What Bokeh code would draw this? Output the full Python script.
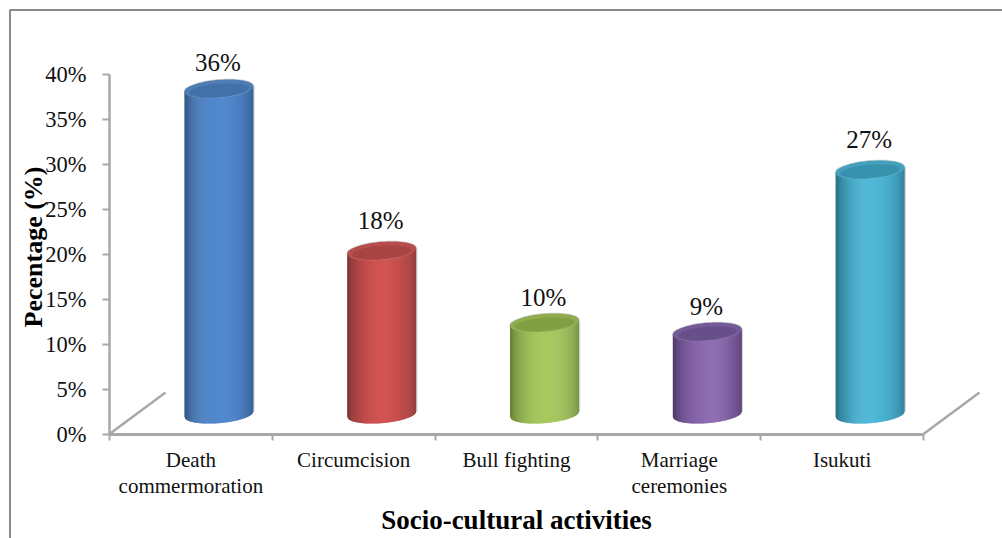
import math

from bokeh.core.properties import value
from bokeh.embed import file_html
from bokeh.models import BoxAnnotation, FixedTicker, Label, Range1d
from bokeh.plotting import figure
from bokeh.resources import INLINE

# Survey results
categories = ["Death\ncommermoration", "Circumcision", "Bull fighting", "Marriage\nceremonies", "Isukuti"]
percentages = [36, 18, 10, 9, 27]
value_labels = ["36%", "18%", "10%", "9%", "27%"]
y_ticks = [0, 5, 10, 15, 20, 25, 30, 35, 40]
y_tick_labels = ["0%", "5%", "10%", "15%", "20%", "25%", "30%", "35%", "40%"]

# Height of each value label above its cylinder's top, in percentage points
label_lift = [3.05, 3.5, 2.95, 2.95, 3.5]

# Cylinder colours: (centre of the face, edge of the face, rim of the cap, inside of the cap)
palette = [
    ("#5289cf", "#305884", "#4f7cb5", "#4270a8"),
    ("#d05453", "#7a2e2c", "#b54e4c", "#a84442"),
    ("#a6c95e", "#6a843c", "#8fac4e", "#81a044"),
    ("#8b69b0", "#523c6c", "#745a98", "#67508a"),
    ("#4db6d6", "#2c7289", "#43a1bd", "#3992ad"),
]

FONT = "Liberation Serif"
AXIS_GREY = "#a8a8a8"
HALO_GREY = "#d4d4d4"

# Pixel scale of the drawing area: categories are 162.8 px apart, 1% is 9 px
W, H = 1002, 538
X0_PX, Y0_PX, PX_PER_CAT, PX_PER_PCT = 109.0, 433.5, 162.8, 9.0

# Oblique-view parameters of the floor and the cylinders, in data units
FLOOR_DX, FLOOR_DY = 0.344, 4.6
BAR_SHIFT = 0.172
BAR_HALF = 0.212
BASE_LIFT = 2.2
TOP_RAISE = 0.15
ELLIPSE_B = 1.0
ELLIPSE_TILT = 0.3
STRIPS = 70

p = figure(
    width=W, height=H, output_backend="svg", toolbar_location=None,
    x_range=Range1d(-X0_PX / PX_PER_CAT, (W - X0_PX) / PX_PER_CAT),
    y_range=Range1d(-(H - Y0_PX) / PX_PER_PCT, Y0_PX / PX_PER_PCT),
    min_border=0, outline_line_color=None, background_fill_color="white",
)
p.grid.visible = False


def mix(a, b, t):
    ca = [int(a[i:i + 2], 16) for i in (1, 3, 5)]
    cb = [int(b[i:i + 2], 16) for i in (1, 3, 5)]
    return "#%02x%02x%02x" % tuple(round(x + (y - x) * t) for x, y in zip(ca, cb))


def front_edge(level, u):
    """Lower half of the sheared ellipse at height `level`, u in [-1, 1]."""
    return level - ELLIPSE_B * math.sqrt(max(0.0, 1 - u * u)) + ELLIPSE_TILT * u


def cap_outline(cx, level, scale_x=1.0, scale_y=1.0, drop=0.0):
    xs, ys = [], []
    for k in range(72):
        a = 2 * math.pi * k / 72
        c, s = math.cos(a) * scale_x, math.sin(a) * scale_y
        xs.append(cx + BAR_HALF * c)
        ys.append(level - drop + ELLIPSE_B * s + ELLIPSE_TILT * c)
    return xs, ys


# Floor edges running back from both ends of the category axis
p.line([0, FLOOR_DX], [0, FLOOR_DY], line_color=AXIS_GREY, line_width=2.5)
p.line([5, 5 + FLOOR_DX], [0, FLOOR_DY], line_color=AXIS_GREY, line_width=2.5)

# Cylinders: the curved face is a run of narrow shaded strips, topped by a cap
for i, (pct, colours) in enumerate(zip(percentages, palette)):
    centre, edge, rim, inner = colours
    cx = i + 0.5 + BAR_SHIFT
    top = BASE_LIFT + pct + TOP_RAISE

    # Faint grey halo along the cap and the right-hand side
    halo_x, halo_y = cap_outline(cx, top)
    p.patch(halo_x, halo_y, fill_color=HALO_GREY, line_color=HALO_GREY, line_width=1.5)
    p.line([cx + BAR_HALF + 0.003] * 2, [BASE_LIFT + ELLIPSE_TILT, top + ELLIPSE_TILT],
           line_color=HALO_GREY, line_width=1.5)

    xs, ys, fills = [], [], []
    for s in range(STRIPS):
        u0 = -1 + 2 * s / STRIPS
        u1 = min(1.0, u0 + 2 * 1.6 / STRIPS)
        um = u0 + 1 / STRIPS
        shade = (1 - min(1.0, abs(um - 0.05)) ** 2) ** 0.7
        xs.append([cx + BAR_HALF * u0, cx + BAR_HALF * u1, cx + BAR_HALF * u1, cx + BAR_HALF * u0])
        ys.append([front_edge(BASE_LIFT, u0), front_edge(BASE_LIFT, u1), front_edge(top, u1), front_edge(top, u0)])
        fills.append(mix(edge, centre, shade))
    p.patches(xs, ys, fill_color=fills, line_color=None)

    cap_x, cap_y = cap_outline(cx, top)
    p.patch(cap_x, cap_y, fill_color=rim, line_color=None)
    in_x, in_y = cap_outline(cx, top, 0.86, 0.72, 0.16)
    p.patch(in_x, in_y, fill_color=inner, line_color=None)

# Value labels above each cylinder
p.text(
    [i + 0.5 + BAR_SHIFT - 0.006 for i in range(5)],
    [BASE_LIFT + v + lift for v, lift in zip(percentages, label_lift)],
    text=value_labels, text_font=value(FONT), text_font_size="25px",
    text_color="#111111", text_align="center", text_baseline="middle",
)

# Axes sit inside the frame so that the outer border can be drawn around them
yax = p.yaxis[0]
yax.fixed_location = 0
yax.bounds = (0, 40)
yax.ticker = FixedTicker(ticks=y_ticks)
yax.major_label_overrides = dict(zip(y_ticks, y_tick_labels))
yax.major_label_text_font = FONT
yax.major_label_text_font_size = "22.5px"
yax.major_label_text_color = "#111111"
yax.major_label_standoff = 16
yax.major_tick_in = 0
yax.major_tick_out = 7
yax.minor_tick_line_color = None
yax.axis_line_color = AXIS_GREY
yax.axis_line_width = 2.5
yax.major_tick_line_color = AXIS_GREY
yax.major_tick_line_width = 2

xax = p.xaxis[0]
xax.fixed_location = 0
xax.bounds = (0, 5)
tick_pos = [i + 0.5 for i in range(5)]
xax.ticker = FixedTicker(ticks=tick_pos, minor_ticks=[0, 1, 2, 3, 4, 5])
xax.major_label_overrides = dict(zip(tick_pos, categories))
xax.major_label_orientation = "horizontal"
xax.major_label_text_font = FONT
xax.major_label_text_font_size = "21px"
xax.major_label_text_line_height = 1.08
xax.major_label_text_color = "#111111"
xax.major_label_standoff = 8
xax.major_tick_in = 0
xax.major_tick_out = 0
xax.minor_tick_in = 0
xax.minor_tick_out = 6
xax.minor_tick_line_color = AXIS_GREY
xax.minor_tick_line_width = 2
xax.axis_line_color = AXIS_GREY
xax.axis_line_width = 3
xax.axis_label = "Socio-cultural activities"
xax.axis_label_text_font = FONT
xax.axis_label_text_font_size = "27px"
xax.axis_label_text_font_style = "bold"
xax.axis_label_text_color = "black"
xax.axis_label_standoff = 4

p.add_layout(Label(
    x=33, y=H - 246.5, x_units="screen", y_units="screen",
    text="Pecentage (%)", angle=math.pi / 2, text_align="center", text_baseline="middle",
    text_font=FONT, text_font_size="26px", text_font_style="bold", text_color="black",
))

# Chart border; its right and bottom sides run past the page edge.
# Screen units for the vertical extent count up from the page's bottom.
p.add_layout(BoxAnnotation(
    left=9.5, right=W + 10, top=H - 9.5, bottom=-10,
    left_units="screen", right_units="screen", top_units="screen", bottom_units="screen",
    fill_color=None, fill_alpha=0, line_color="#8a8a8a", line_alpha=1.0, line_width=2,
))

open("out.html", "w").write(file_html(p, INLINE))
